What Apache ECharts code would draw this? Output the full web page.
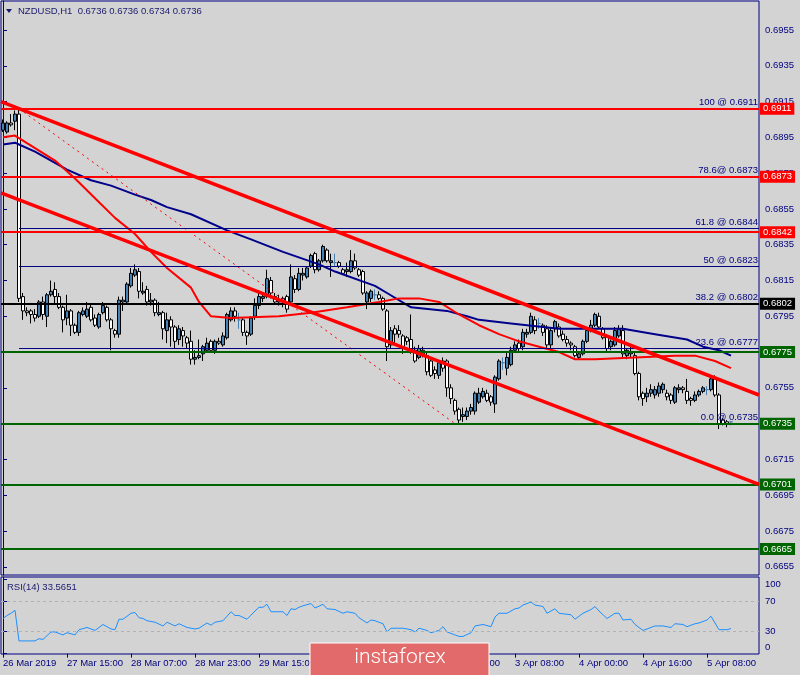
<!DOCTYPE html>
<html><head><meta charset="utf-8">
<script src="https://cdn.jsdelivr.net/npm/echarts@6/dist/echarts.min.js"></script>
<style>html,body{margin:0;padding:0;background:#d3d3d3;}#c{width:800px;height:675px;}</style>
</head><body><div id="c"></div>
<script>
// ---------- DATA ----------
const symbolTitle = 'NZDUSD,H1  0.6736 0.6736 0.6734 0.6736';
const rsiTitle = 'RSI(14) 33.5651';
const tickBars = [0,16,32,48,64,80,96,112,128,144,160,176];
const tickLabels = ['26 Mar 2019','27 Mar 15:00','28 Mar 07:00','28 Mar 23:00','29 Mar 15:00','1 Apr 08:00','2 Apr 00:00','2 Apr 16:00','3 Apr 08:00','4 Apr 00:00','4 Apr 16:00','5 Apr 08:00'];
const priceTicks = [0.6655,0.6675,0.6695,0.6715,0.6735,0.6755,0.6775,0.6795,0.6815,0.6835,0.6855,0.6875,0.6895,0.6915,0.6935,0.6955];
const rsiTicks = [0,30,70,100];
const rsiLevels = [30,70];
// candles: [open, high, low, close]
const candles = [
[.6899,.6905,.6898,.6903],[.6898,.6904,.6897,.6903],[.6903,.6908,.6901,.6902],[.6904,.6910,.6899,.6908],
[.6908,.6911,.6803,.6805],[.6806,.6808,.6793,.6798],[.6798,.6800,.6795,.6797],[.6798,.6799,.6791,.6796],
[.6796,.6799,.6792,.6794],[.6795,.6804,.6794,.6803],[.6803,.6806,.6793,.6796],[.6795,.6808,.6789,.6807],
[.6807,.6815,.6806,.6809],[.6810,.6814,.6802,.6806],[.6806,.6808,.6799,.6800],[.6800,.6801,.6786,.6793],
[.6794,.6807,.6790,.6798],[.6798,.6799,.6784,.6790],[.6790,.6791,.6785,.6786],[.6786,.6798,.6784,.6797],
[.6796,.6800,.6795,.6798],[.6795,.6803,.6794,.6799],[.6800,.6802,.6792,.6793],[.6794,.6796,.6789,.6790],
[.6789,.6797,.6788,.6796],[.6797,.6803,.6796,.6801],[.6800,.6801,.6792,.6793],[.6793,.6794,.6776,.6788],
[.6787,.6788,.6783,.6785],[.6785,.6806,.6783,.6804],[.6803,.6806,.6798,.6804],[.6803,.6814,.6802,.6813],
[.6812,.6822,.6811,.6819],[.6818,.6824,.6817,.6821],[.6820,.6822,.6805,.6809],[.6808,.6814,.6807,.6809],
[.6810,.6812,.6801,.6803],[.6803,.6808,.6801,.6804],[.6804,.6805,.6795,.6797],[.6796,.6803,.6795,.6797],
[.6797,.6798,.6782,.6788],[.6787,.6797,.6780,.6793],[.6793,.6795,.6778,.6789],[.6789,.6790,.6777,.6781],
[.6782,.6790,.6779,.6788],[.6787,.6789,.6778,.6784],[.6783,.6784,.6777,.6780],[.6781,.6787,.6768,.6771],
[.6771,.6776,.6768,.6772],[.6772,.6782,.6771,.6773],[.6774,.6779,.6770,.6778],[.6776,.6783,.6775,.6780],
[.6781,.6782,.6775,.6776],[.6776,.6782,.6774,.6781],[.6781,.6783,.6779,.6780],[.6779,.6786,.6778,.6784],
[.6783,.6797,.6782,.6796],[.6793,.6800,.6792,.6798],[.6798,.6800,.6792,.6795],[.6793,.6797,.6788,.6793],
[.6793,.6794,.6784,.6786],[.6786,.6787,.6779,.6784],[.6785,.6795,.6784,.6794],[.6795,.6805,.6793,.6801],
[.6801,.6808,.6799,.6806],[.6805,.6808,.6803,.6806],[.6806,.6821,.6805,.6816],[.6815,.6817,.6805,.6808],
[.6806,.6808,.6802,.6803],[.6803,.6807,.6801,.6804],[.6805,.6806,.6800,.6803],[.6806,.6807,.6797,.6799],
[.6803,.6824,.6801,.6817],[.6816,.6818,.6808,.6810],[.6810,.6822,.6809,.6819],[.6818,.6822,.6815,.6819],
[.6817,.6823,.6816,.6822],[.6823,.6830,.6822,.6829],[.6830,.6831,.6819,.6821],[.6821,.6827,.6820,.6826],
[.6826,.6835,.6825,.6834],[.6832,.6833,.6825,.6826],[.6825,.6830,.6817,.6826],[.6825,.6830,.6823,.6825],
[.6825,.6826,.6822,.6823],[.6821,.6822,.6818,.6819],[.6820,.6825,.6817,.6821],[.6820,.6832,.6819,.6826],
[.6826,.6830,.6821,.6822],[.6821,.6822,.6817,.6818],[.6820,.6821,.6807,.6808],[.6803,.6809,.6799,.6808],
[.6805,.6810,.6803,.6809],[.6807,.6810,.6804,.6807],[.6807,.6809,.6804,.6805],[.6805,.6806,.6798,.6799],
[.6798,.6799,.6770,.6778],[.6779,.6789,.6777,.6787],[.6788,.6790,.6780,.6785],[.6787,.6790,.6783,.6785],
[.6784,.6785,.6774,.6778],[.6783,.6784,.6779,.6781],[.6782,.6796,.6774,.6776],[.6776,.6778,.6769,.6770],
[.6772,.6779,.6771,.6777],[.6776,.6778,.6772,.6774],[.6773,.6775,.6762,.6764],[.6770,.6771,.6761,.6762],
[.6765,.6767,.6760,.6763],[.6762,.6770,.6760,.6769],[.6770,.6772,.6764,.6766],[.6770,.6771,.6750,.6755],
[.6755,.6757,.6746,.6749],[.6748,.6749,.6740,.6742],[.6743,.6744,.6735,.6737],[.6739,.6744,.6736,.6740],
[.6739,.6744,.6737,.6742],[.6742,.6746,.6740,.6744],[.6742,.6753,.6740,.6752],[.6747,.6755,.6746,.6752],
[.6750,.6755,.6749,.6753],[.6752,.6754,.6747,.6748],[.6750,.6751,.6745,.6747],[.6746,.6762,.6741,.6761],
[.6760,.6771,.6759,.6770],[.6769,.6772,.6765,.6769],[.6766,.6775,.6762,.6772],[.6768,.6778,.6767,.6776],
[.6776,.6781,.6775,.6779],[.6780,.6782,.6775,.6777],[.6778,.6788,.6776,.6786],[.6785,.6788,.6783,.6786],
[.6786,.6797,.6785,.6795],[.6793,.6795,.6785,.6787],[.6791,.6794,.6788,.6791],[.6790,.6791,.6784,.6786],
[.6788,.6790,.6777,.6779],[.6779,.6789,.6777,.6787],[.6788,.6793,.6786,.6792],[.6789,.6791,.6783,.6784],
[.6785,.6787,.6781,.6782],[.6782,.6784,.6778,.6780],[.6780,.6781,.6776,.6779],[.6778,.6779,.6772,.6773],
[.6772,.6775,.6771,.6774],[.6774,.6782,.6773,.6781],[.6781,.6788,.6780,.6787],[.6787,.6793,.6786,.6790],
[.6790,.6797,.6789,.6796],[.6795,.6797,.6788,.6789],[.6788,.6789,.6782,.6783],[.6784,.6785,.6775,.6777],
[.6778,.6782,.6776,.6781],[.6779,.6789,.6778,.6787],[.6784,.6790,.6783,.6788],[.6787,.6790,.6772,.6774],
[.6773,.6777,.6771,.6776],[.6774,.6778,.6772,.6775],[.6773,.6775,.6762,.6763],[.6763,.6764,.6748,.6750],
[.6752,.6753,.6745,.6749],[.6750,.6755,.6747,.6752],[.6752,.6757,.6750,.6754],[.6751,.6756,.6749,.6754],
[.6752,.6758,.6750,.6756],[.6754,.6758,.6752,.6757],[.6752,.6754,.6748,.6750],[.6751,.6752,.6746,.6748],
[.6747,.6756,.6746,.6755],[.6754,.6757,.6752,.6755],[.6755,.6756,.6752,.6754],[.6753,.6760,.6746,.6748],
[.6749,.6750,.6745,.6748],[.6748,.6753,.6747,.6751],[.6751,.6754,.6750,.6753],[.6753,.6756,.6752,.6755],
[.6754,.6756,.6751,.6754],[.6754,.6761,.6753,.6760],[.6760,.6762,.6750,.6751],[.6751,.6752,.6732,.6735],
[.6737,.6738,.6734,.6735],[.6736,.6737,.6733,.6735],[.6736,.6736,.6734,.6736]
];
// moving averages: [bar, price]
const fastMA = [[0,.6895],[3,.6896],[8,.6889],[13,.6882],[18,.6872],[23,.6861],[28,.6850],[33,.6841],[37,.6831],[41,.6822],[47,.6811],[49,.6803],[52,.6795],[57,.6794],[69,.6795],[77,.6797],[86,.6800],[94,.6803],[99,.6805],[104,.6805],[109,.6803],[114,.6796],[119,.6790],[124,.6785],[129,.6781],[134,.6778],[139,.6775],[143,.6771],[148,.6771],[158,.6772],[168,.6773],[173,.6773],[178,.6770],[182,.6766]];
const slowMA = [[0,.6891],[3,.6892],[4,.6891],[8,.6887],[12,.6882],[16,.6877],[22,.6871],[27,.6868],[33,.6863],[37,.6860],[41,.6856],[47,.6852],[56,.6843],[62,.6838],[70,.6831],[79,.6824],[83,.6820],[93,.6812],[96,.6808],[102,.6800],[111,.6798],[116,.6795],[119,.6793],[127,.6791],[139,.6788],[148,.6788],[155,.6788],[163,.6785],[171,.6782],[175,.6778],[179,.6776],[182,.6773]];
// RSI(14): [bar, value]
const rsiValues = [[0,47],[1,51],[2,54],[3,58],[4,17],[8,17],[9,20],[10,19],[12,29],[13,29],[15,25],[16,28],[18,25],[19,32],[21,35],[23,31],[25,39],[27,33],[28,32],[29,46],[30,46],[32,54],[33,55],[34,48],[35,47],[36,44],[38,42],[40,37],[41,42],[43,37],[44,40],[46,35],[48,33],[49,34],[51,41],[52,38],[53,42],[55,44],[57,56],[58,51],[59,51],[61,46],[63,57],[64,62],[65,62],[66,66],[67,56],[70,56],[71,51],[72,60],[73,59],[74,62],[75,64],[77,67],[78,61],[80,66],[81,60],[83,59],[85,54],[86,56],[88,54],[89,48],[91,41],[92,45],[93,44],[95,40],[96,29],[97,34],[100,34],[102,32],[103,29],[104,34],[106,31],[107,28],[109,31],[110,36],[111,29],[112,27],[114,23],[115,23],[117,28],[118,37],[120,39],[122,36],[123,49],[124,54],[126,54],[128,60],[129,61],[130,65],[132,69],[133,65],[135,63],[136,54],[138,60],[139,54],[142,52],[143,46],[145,54],[147,59],[148,63],[149,57],[151,47],[153,54],[154,54],[155,45],[157,46],[158,39],[160,31],[162,35],[163,37],[165,37],[167,35],[168,40],[170,39],[171,36],[173,40],[174,41],[175,43],[176,45],[177,50],[179,32],[181,32],[182,33.5651]];
// horizontal levels
const resistanceLevels = [0.6911,0.6873,0.6842];
const pivotLevels = [0.6802];
const supportLevels = [0.6775,0.6735,0.6701,0.6665];
// fibonacci retracement
const fibStartBar = 4;
const fibLevels = [0.6911,0.6873,0.6844,0.6823,0.6802,0.6777,0.6735];
const fibLabels = ['100 @ 0.6911','78.6@ 0.6873','61.8 @ 0.6844','50 @ 0.6823','38.2 @ 0.6802','23.6 @ 0.6777','0.0 @ 0.6735'];
const fibDiagonal = [[4,0.6911],[113,0.6735]];
// channel trend lines [bar, price]
const channelUpper = [[-0.5,0.6915],[189,0.6751]];
const channelLower = [[-0.5,0.6864],[189,0.6701]];

// ---------- CHART ----------
const NAVY = '#000080', FONT = 'Liberation Sans', FS = 9.5;
const X_MIN = -0.5, X_MAX = 189;
const chart = echarts.init(document.getElementById('c'), null, {renderer:'canvas'});

function levelPair(v, color) {
  return [
    {coord:[X_MIN, v], lineStyle:{color:color, width:2, type:'solid'},
     label:{show:true, position:'end', distance:1, formatter: v.toFixed(4), color:'#ffffff',
       backgroundColor: color, padding:[1,3,0,3], fontSize:FS, fontFamily:FONT, lineHeight:11}},
    {coord:[X_MAX, v]}
  ];
}
const levelData = []
  .concat(resistanceLevels.map(v => levelPair(v, '#ff0000')))
  .concat(pivotLevels.map(v => levelPair(v, '#000000')))
  .concat(supportLevels.map(v => levelPair(v, '#006400')));

const fibData = fibLevels.map((v, k) => [
  {coord:[fibStartBar, v], lineStyle:{color:NAVY, width:1, type:'solid'},
   label:{show:true, position:'insideEndTop', distance:1, formatter: fibLabels[k], color:NAVY, fontSize:FS, fontFamily:FONT}},
  {coord:[X_MAX, v]}
]);

const option = {
  animation:false,
  backgroundColor:'#d3d3d3',
  textStyle:{fontFamily:FONT},
  grid:[
    {left:1, width:758, top:1, height:574, show:true, borderColor:NAVY, borderWidth:1, backgroundColor:'transparent'},
    {left:1, width:758, top:577, height:77, show:true, borderColor:NAVY, borderWidth:1, backgroundColor:'transparent'}
  ],
  xAxis:[
    {type:'value', gridIndex:0, min:X_MIN, max:X_MAX, show:false},
    {type:'value', gridIndex:1, min:X_MIN, max:X_MAX,
      axisLine:{show:false}, splitLine:{show:false},
      axisTick:{show:true, customValues:tickBars, length:4, lineStyle:{color:NAVY}},
      axisLabel:{show:true, customValues:tickBars, formatter: v => tickLabels[tickBars.indexOf(Math.round(v))] || '',
        align:'left', margin:4, color:NAVY, fontSize:FS, fontFamily:FONT}}
  ],
  yAxis:[
    {type:'value', gridIndex:0, position:'right', min:0.66504, max:0.69712,
      axisLine:{show:true, lineStyle:{color:NAVY}}, splitLine:{show:false},
      axisTick:{show:true, customValues:priceTicks, length:4, lineStyle:{color:NAVY}},
      axisLabel:{customValues:priceTicks, formatter: v => v.toFixed(4), color:NAVY, fontSize:FS, fontFamily:FONT, margin:6}},
    {type:'value', gridIndex:1, position:'right', min:-0.5, max:102.5,
      axisLine:{show:true, lineStyle:{color:NAVY}}, splitLine:{show:false},
      axisTick:{show:true, customValues:rsiTicks, length:4, lineStyle:{color:NAVY}},
      axisLabel:{customValues:rsiTicks, margin:6, color:NAVY, fontSize:FS, fontFamily:FONT,
        formatter: v => v === 100 ? '{t|100}' : (v === 0 ? '{b|0}' : '{m|' + v + '}'),
        rich:{t:{padding:[11,0,0,0], color:NAVY, fontSize:FS, fontFamily:FONT},
              b:{padding:[0,0,13,0], color:NAVY, fontSize:FS, fontFamily:FONT},
              m:{color:NAVY, fontSize:FS, fontFamily:FONT}}}}
  ],
  series:[
    {type:'line', xAxisIndex:0, yAxisIndex:0, data:[], z:1, silent:true,
      markLine:{symbol:'none', silent:true, animation:false, data:fibData}},
    {type:'candlestick', xAxisIndex:0, yAxisIndex:0, z:3, barWidth:3,
      dimensions:['x','open','close','lowest','highest'],
      encode:{x:'x', y:['open','close','lowest','highest']},
      data: candles.map((d, i) => [i, d[0], d[3], d[2], d[1]]),
      itemStyle:{color:'#4682b4', color0:'#ffffff', borderColor:'#000000', borderColor0:'#000000', borderColorDoji:'#4682b4', borderWidth:1}},
    {type:'line', xAxisIndex:0, yAxisIndex:0, data:slowMA, symbol:'none', z:4, silent:true,
      lineStyle:{color:'#00008b', width:2}},
    {type:'line', xAxisIndex:0, yAxisIndex:0, data:fastMA, symbol:'none', z:4, silent:true,
      lineStyle:{color:'#ff0000', width:2}},
    {type:'line', xAxisIndex:0, yAxisIndex:0, data:fibDiagonal, symbol:'none', z:4, silent:true,
      lineStyle:{color:'#ff0000', width:1, type:[2,4]}},
    {type:'line', xAxisIndex:0, yAxisIndex:0, data:[], z:5, silent:true,
      markLine:{symbol:'none', silent:true, animation:false, data:levelData}},
    {type:'line', xAxisIndex:0, yAxisIndex:0, data:channelUpper, symbol:'none', z:6, silent:true,
      lineStyle:{color:'#ff0000', width:3.5}},
    {type:'line', xAxisIndex:0, yAxisIndex:0, data:channelLower, symbol:'none', z:6, silent:true,
      lineStyle:{color:'#ff0000', width:3.5}},
    {type:'line', xAxisIndex:1, yAxisIndex:1, data:rsiValues, symbol:'none', z:4, silent:true,
      lineStyle:{color:'#1e90ff', width:1},
      markLine:{symbol:'none', silent:true, animation:false, label:{show:false},
        lineStyle:{color:'#b2b2b2', type:[3,3], width:1},
        data: rsiLevels.map(v => ({yAxis:v}))}}
  ],
  graphic:[
    {type:'polygon', shape:{points:[[6,9],[12,9],[9,13]]}, style:{fill:'#1a1a6e'}, z:10},
    {type:'text', x:18, y:11, style:{text:symbolTitle, fill:'#1a1a6e', font:FS+'px "'+FONT+'"', verticalAlign:'middle'}, z:10},
    {type:'text', x:7, y:587, style:{text:rsiTitle, fill:'#1a1a6e', font:FS+'px "'+FONT+'"', verticalAlign:'middle'}, z:10},
    {type:'rect', shape:{x:310, y:643, width:179, height:40}, style:{fill:'#e26a6a', stroke:'#ffffff', lineWidth:1}, z:20},
    {type:'text', x:400, y:658, style:{text:'instaforex', fill:'#ffffff', font:'300 21px Roboto', align:'center', verticalAlign:'middle'}, z:21}
  ]
};
chart.setOption(option);
</script></body></html>
